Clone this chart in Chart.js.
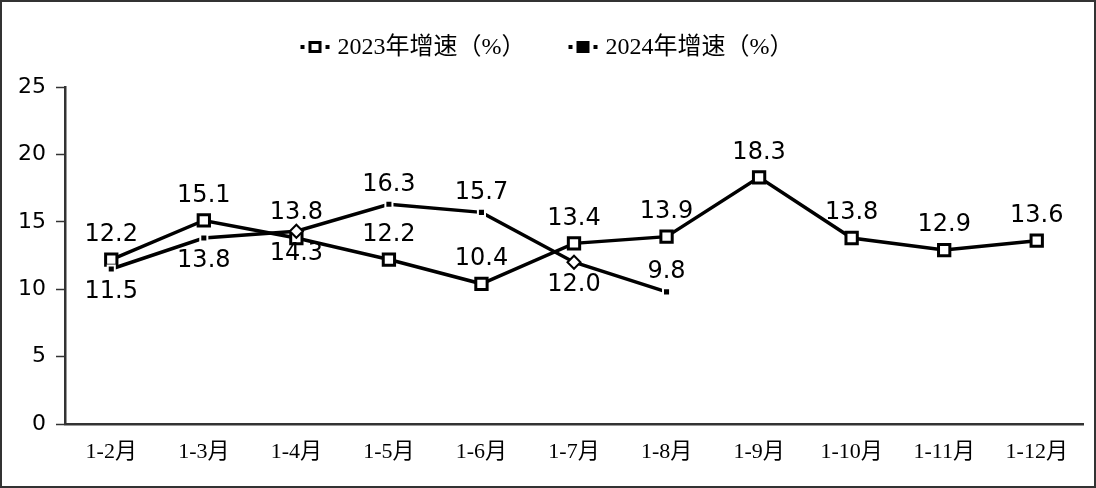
<!DOCTYPE html>
<html>
<head>
<meta charset="utf-8">
<script src="https://cdn.jsdelivr.net/npm/chart.js@4/dist/chart.umd.min.js"></script>
<style>
html,body{margin:0;padding:0;background:#fff;}
#wrap{position:relative;width:1096px;height:488px;box-sizing:border-box;border:2px solid #333;}
canvas{display:block;}
</style>
</head>
<body>
<div id="wrap"><canvas id="c" width="1092" height="484"></canvas></div>
<script>
const categories = ['1-2月','1-3月','1-4月','1-5月','1-6月','1-7月','1-8月','1-9月','1-10月','1-11月','1-12月'];
const growth2023 = [12.2, 15.1, 13.8, 12.2, 10.4, 13.4, 13.9, 18.3, 13.8, 12.9, 13.6];
const growth2024 = [11.5, 13.8, 14.3, 16.3, 15.7, 12.0, 9.8, null, null, null, null];
const seriesNames = ['2023年增速（%）', '2024年增速（%）'];
const yTicks = [0, 5, 10, 15, 20, 25];

const SERIF = '"Liberation Serif", "Noto Sans CJK SC", serif';
const SANS = '"DejaVu Sans", Verdana, sans-serif';

function drawLegendIcon(g, x, y, filled) {
  g.fillStyle = '#000';
  g.fillRect(x, y - 2, 4, 4);
  g.fillRect(x + 25, y - 2, 4, 4);
  g.fillRect(x + 8, y - 6, 13, 12);
  if (!filled) { g.fillStyle = '#fff'; g.fillRect(x + 11, y - 3, 7, 6); }
}

const legendPlugin = {
  id: 'customLegend',
  afterDraw(chart) {
    const g = chart.ctx;
    g.save();
    g.font = '24px ' + SERIF;
    g.textBaseline = 'middle';
    g.textAlign = 'left';
    const iconW = 29, iconGap = 8, itemGap = 43;
    const widths = chart.data.datasets.map(ds => iconW + iconGap + g.measureText(ds.label).width);
    const total = widths.reduce((a, b) => a + b, 0) + itemGap * (widths.length - 1);
    let x = 545 - total / 2;
    const y = 45;
    chart.data.datasets.forEach((ds, i) => {
      drawLegendIcon(g, x, y, i === 1);
      g.fillStyle = '#000';
      g.fillText(ds.label, x + iconW + iconGap, y + 1);
      x += widths[i] + itemGap;
    });
    g.restore();
  }
};

const labelPlugin = {
  id: 'valueLabels',
  afterDatasetsDraw(chart) {
    const ctx = chart.ctx;
    ctx.save();
    ctx.font = '24px ' + SANS;
    ctx.fillStyle = '#000';
    ctx.textAlign = 'center';
    ctx.textBaseline = 'middle';
    chart.data.datasets.forEach((ds, di) => {
      const meta = chart.getDatasetMeta(di);
      meta.data.forEach((pt, i) => {
        const v = ds.data[i];
        if (v === null || v === undefined) return;
        const side = ds.labelSide[i];
        const off = side === 'below' ? ds.belowOffset : ds.aboveOffset;
        ctx.fillText(v.toFixed(1), pt.x, pt.y + off);
      });
    });
    ctx.restore();
  }
};

new Chart(document.getElementById('c'), {
  type: 'line',
  data: {
    labels: categories,
    datasets: [
      {
        label: seriesNames[0],
        data: growth2023,
        borderColor: '#000',
        borderWidth: 3.5,
        pointStyle: 'rect',
        pointRadius: 8,
        pointBorderWidth: 3,
        pointBackgroundColor: '#fff',
        pointBorderColor: '#000',
        tension: 0,
        order: 1,
        labelSide: ['above','above','above','above','above','above','above','above','above','above','above'],
        aboveOffset: -25, belowOffset: 24
      },
      {
        label: seriesNames[1],
        data: growth2024,
        borderColor: '#000',
        borderWidth: 3.5,
        pointStyle: ['rect','rect','rectRot','rect','rect','rectRot','rect','rect','rect','rect','rect'],
        pointRadius: [5,5,6.5,5,5,6.5,5,5,5,5,5],
        pointBorderWidth: 2,
        pointBackgroundColor: ['#000','#000','#fff','#000','#000','#fff','#000','#000','#000','#000','#000'],
        pointBorderColor: ['#fff','#fff','#000','#fff','#fff','#000','#fff','#fff','#fff','#fff','#fff'],
        tension: 0,
        spanGaps: false,
        order: 0,
        labelSide: ['below','below','below','above','above','below','above'],
        aboveOffset: -20, belowOffset: 23
      }
    ]
  },
  options: {
    responsive: false,
    animation: false,
    devicePixelRatio: 1,
    layout: { padding: { top: 85, left: 0, right: 7, bottom: 0 } },
    plugins: {
      tooltip: { enabled: false },
      legend: { display: false }
    },
    scales: {
      x: {
        offset: true,
        grid: { display: false, drawTicks: false, offset: true },
        border: { display: true, color: '#333', width: 2.5 },
        ticks: {
          color: '#000', padding: 15, maxRotation: 0, autoSkip: false,
          font: { family: SERIF, size: 22 }
        },
        afterFit(scale) { scale.height = 62; }
      },
      y: {
        min: 0, max: 25,
        afterBuildTicks(scale) { scale.ticks = yTicks.map(v => ({ value: v })); },
        grid: { drawOnChartArea: false, drawTicks: true, tickLength: 9, color: '#333', tickWidth: 1.5 },
        border: { display: true, color: '#333', width: 2.5 },
        ticks: {
          color: '#000', padding: 10,
          font: { family: SANS, size: 22 }
        },
        afterFit(scale) { scale.width = 63; }
      }
    }
  },
  plugins: [labelPlugin, legendPlugin]
});
</script>
</body>
</html>
